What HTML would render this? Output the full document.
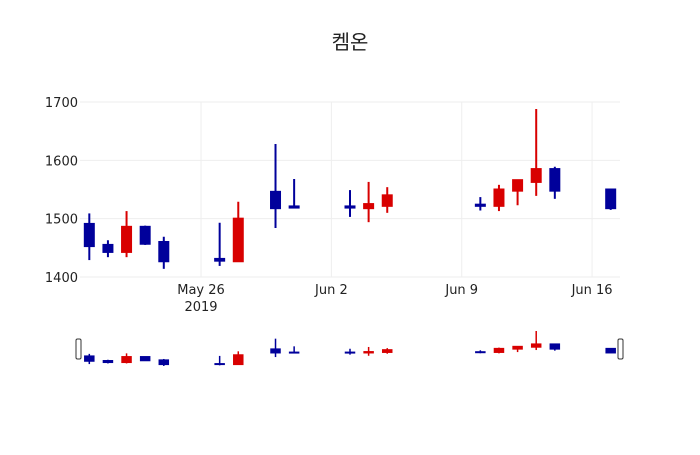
<!DOCTYPE html>
<html><head><meta charset="utf-8"><style>
body{margin:0;background:#fff;}
svg{font-family:"DejaVu Sans","Liberation Sans","Noto Sans CJK KR",sans-serif;}
</style></head><body>
<svg id="chart" width="700" height="450">
<rect width="700" height="450" fill="#fff"/>
<text x="350" y="49" text-anchor="middle" font-size="20" fill="#222" font-family="Liberation Sans, Noto Sans CJK KR, sans-serif">켐온</text>
<g id="grid"></g><g id="main"></g><g id="slider"></g><g id="axes"></g>
</svg>
<script>
const dates=["2019-05-20","2019-05-21","2019-05-22","2019-05-23","2019-05-24","2019-05-27","2019-05-28","2019-05-30","2019-05-31","2019-06-03","2019-06-04","2019-06-05","2019-06-10","2019-06-11","2019-06-12","2019-06-13","2019-06-14","2019-06-17"];
const opens=[1491,1455,1443,1486,1460,1431,1427,1546,1521,1521,1518,1522,1524,1522,1548,1563,1585,1550];
const highs=[1509,1463,1513,1488,1469,1493,1529,1628,1568,1549,1563,1554,1537,1558,1566,1688,1589,1550];
const lows=[1429,1434,1434,1455,1414,1419,1426,1484,1519,1503,1494,1510,1514,1513,1523,1539,1534,1515];
const closes=[1453,1443,1486,1457,1427,1428,1500,1518,1519,1519,1525,1540,1522,1550,1566,1585,1548,1518];
const yTicks=[1400,1500,1600,1700];
const xTicks=["2019-05-26","2019-06-02","2019-06-09","2019-06-16"];
const xTickLabels=["May 26","Jun 2","Jun 9","Jun 16"];

const NS="http://www.w3.org/2000/svg";
const t0=Date.parse("2019-05-19T12:00:00Z"), t1=Date.parse("2019-06-17T12:00:00Z");
const L=80,R=620;
function x(d){return L+(Date.parse(d+"T00:00:00Z")-t0)/(t1-t0)*(R-L);}
function y(v){return 277-(v-1400)/300*175;}
const smin=Math.min(...lows), smax=Math.max(...highs);
function ys(v){return 366-(v-smin)/(smax-smin)*35;}
function mk(tag,attrs,parent){const e=document.createElementNS(NS,tag);for(const k in attrs)e.setAttribute(k,attrs[k]);parent.appendChild(e);return e;}
const grid=document.getElementById('grid'),main=document.getElementById('main'),sl=document.getElementById('slider'),ax=document.getElementById('axes');

yTicks.forEach(v=>{
  const g=mk('line',{x1:L,x2:R,y1:y(v),y2:y(v),stroke:'#eee','stroke-width':1},grid);
  
  
  const t=mk('text',{x:78,y:y(v)+5,'text-anchor':'end','font-size':13,fill:'#222'},ax);
  t.textContent=v;
  
  
});
xTicks.forEach((d,i)=>{
  const g=mk('line',{x1:x(d),x2:x(d),y1:102,y2:277,stroke:'#eee','stroke-width':1},grid);
  
  
  const t=mk('text',{x:x(d),y:294,'text-anchor':'middle','font-size':13,fill:'#222'},ax);
  t.textContent=xTickLabels[i];
  
  
});
const yr=mk('text',{x:x(xTicks[0]),y:311,'text-anchor':'middle','font-size':13,fill:'#222'},ax);
yr.textContent="2019";



function candle(i,parent,yf,bw,lw){
  const up=closes[i]>=opens[i];
  const col=up?'#d80000':'#00009b';
  const cx=x(dates[i]);
  const g=mk('g',{},parent);
  
  
  mk('line',{x1:cx,x2:cx,y1:yf(highs[i]),y2:yf(lows[i]),stroke:col,'stroke-width':lw},g);
  const top=yf(Math.max(opens[i],closes[i])),bot=yf(Math.min(opens[i],closes[i]));
  mk('rect',{x:cx-bw/2,y:top,width:bw,height:Math.max(bot-top,0.5),fill:col,stroke:col,'stroke-width':lw},g);
}
dates.forEach((d,i)=>candle(i,main,y,9,2));
dates.forEach((d,i)=>candle(i,sl,ys,9,1.5));
[[78.5],[620.5]].forEach(([hx],k)=>{
  const h=mk('rect',{x:hx-2.5,y:339,width:5,height:20,rx:1.5,fill:'#fff',stroke:'#333','stroke-width':1},sl);
  
  
});
</script>
</body></html>
